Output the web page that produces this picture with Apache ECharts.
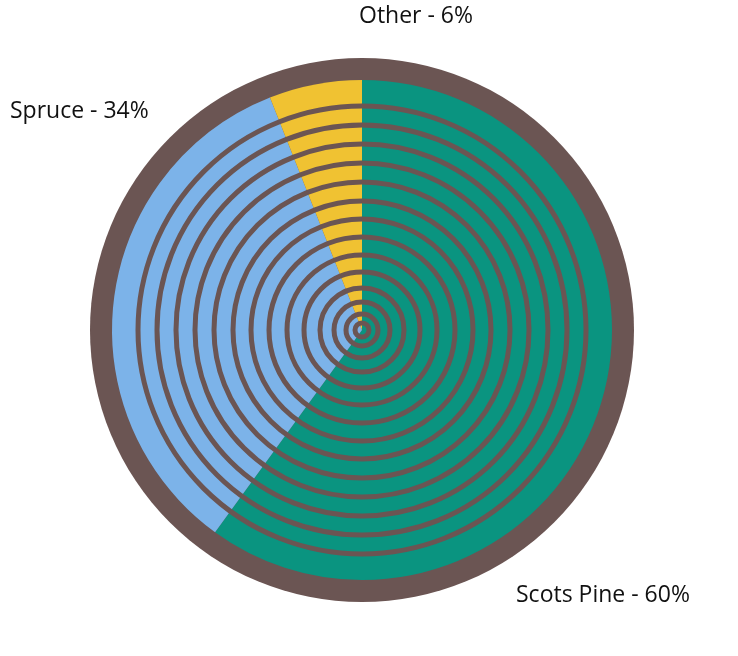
<!DOCTYPE html>
<html><head><meta charset="utf-8">
<script src="https://cdn.jsdelivr.net/npm/echarts@6/dist/echarts.min.js"></script>
<style>html,body{margin:0;padding:0;background:#fff}#c{width:738px;height:656px}</style>
</head><body><div id="c"></div>
<script>
const categories = ['Scots Pine', 'Spruce', 'Other'];
const values = [60, 34, 6];
const colors = ['#0a9480', '#7cb3e9', '#f0c232'];
const ringRadii = [7, 16, 28, 42, 58, 75, 93, 111, 129, 148, 167, 186, 205, 224];
const cx = 362, cy = 330, brown = '#6b5553';
const chart = echarts.init(document.getElementById('c'));
const graphic = [
  {type:'circle', shape:{cx:cx, cy:cy, r:272}, style:{fill:brown}, z:-10, silent:true},
  ...ringRadii.map(r => ({type:'circle', shape:{cx:cx, cy:cy, r:r}, style:{fill:'none', stroke:brown, lineWidth:5}, z:10, silent:true})),
  {type:'text', left:359, top:5, style:{text:'Other - 6%', font:'23px "Open Sans"', fill:'#111'}},
  {type:'text', left:10, top:100, style:{text:'Spruce - 34%', font:'23px "Open Sans"', fill:'#111'}},
  {type:'text', left:516, top:584, style:{text:'Scots Pine - 60%', font:'23px "Open Sans"', fill:'#111'}}
];
chart.setOption({
  animation:false,
  graphic: graphic,
  series:[{
    type:'pie', center:[cx, cy], radius:[0, 250], startAngle:90, clockwise:true,
    label:{show:false}, labelLine:{show:false},
    data: categories.map((c,i)=>({name:c, value:values[i], itemStyle:{color:colors[i]}}))
  }]
});
</script></body></html>
